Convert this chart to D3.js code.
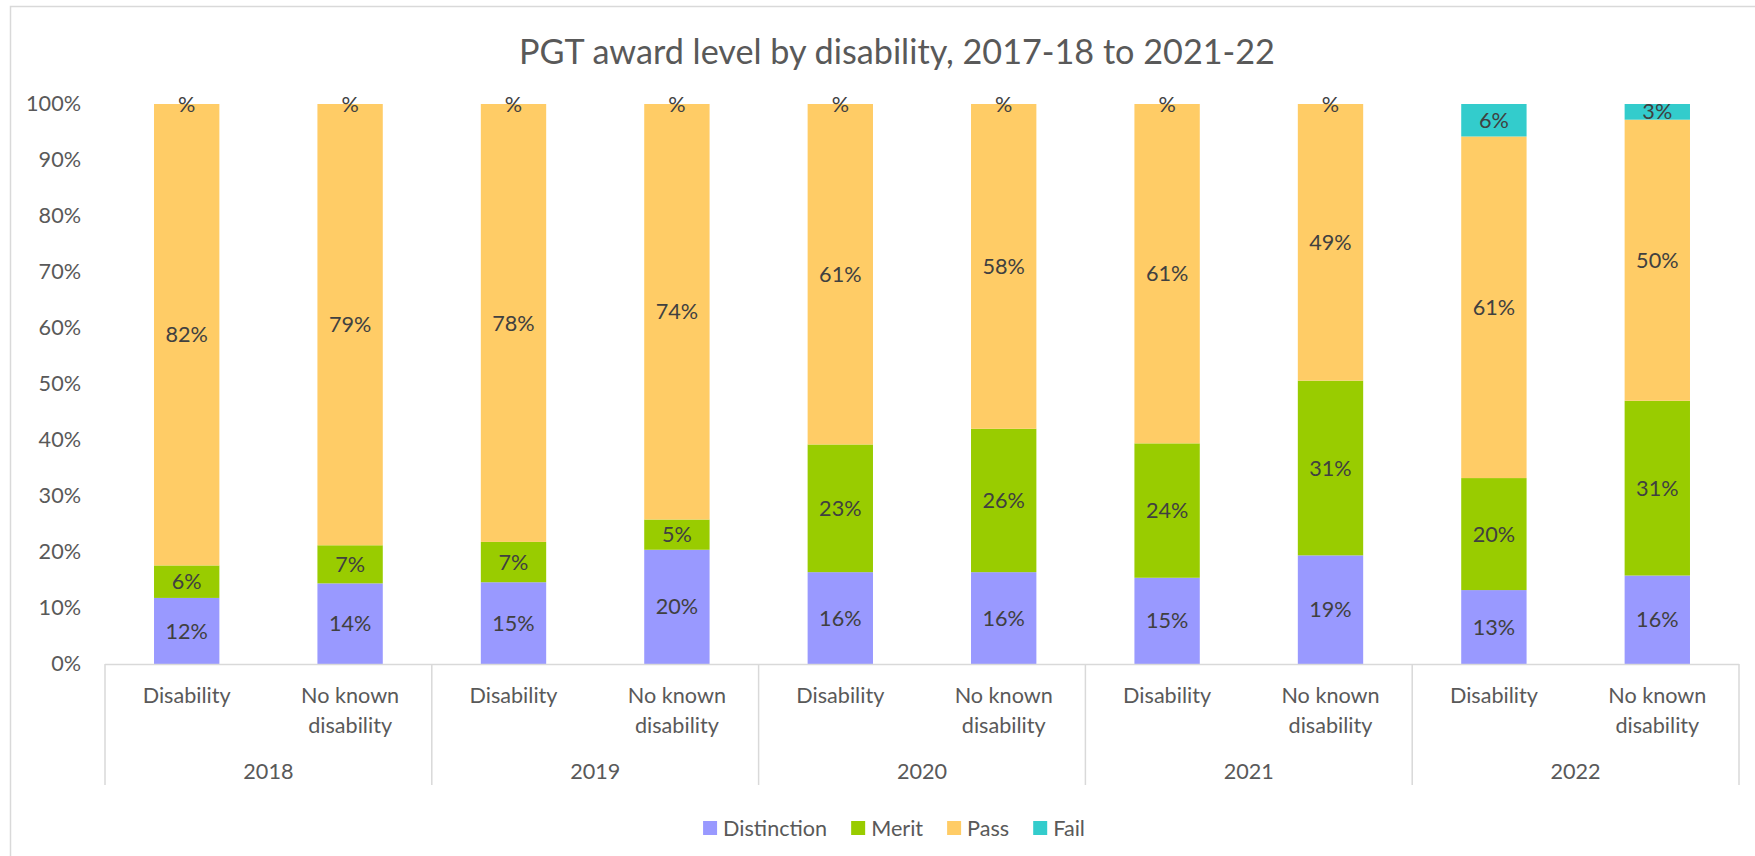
<!DOCTYPE html>
<html>
<head>
<meta charset="utf-8">
<script src="https://cdn.jsdelivr.net/npm/d3@7"></script>
<style>
  html, body { margin: 0; padding: 0; background: #ffffff; }
  svg { display: block; }
</style>
</head>
<body>
<svg id="chart" width="1755" height="856"></svg>
<script>
// ---------------- DATA ----------------
const title = "PGT award level by disability, 2017-18 to 2021-22";
const years = ["2018", "2019", "2020", "2021", "2022"];
const groups = ["Disability", "No known disability"];
const seriesNames = ["Distinction", "Merit", "Pass", "Fail"];
// values in bar order: 2018 Dis, 2018 NKD, 2019 Dis, 2019 NKD, ...
const distinction = [0.118, 0.144, 0.146, 0.204, 0.164, 0.164, 0.154, 0.194, 0.132, 0.158];
const merit       = [0.058, 0.068, 0.072, 0.054, 0.228, 0.256, 0.240, 0.312, 0.200, 0.312];
const pass        = [0.824, 0.788, 0.782, 0.742, 0.608, 0.580, 0.606, 0.494, 0.610, 0.502];
const fail        = [null, null, null, null, null, null, null, null, 0.058, 0.028];
const yTickValues = [0, 0.1, 0.2, 0.3, 0.4, 0.5, 0.6, 0.7, 0.8, 0.9, 1.0];

// ---------------- STYLE ----------------
const seriesColors = { Distinction: "#9999FF", Merit: "#99CC00", Pass: "#FFCC66", Fail: "#33CCCC" };
const FONT = "Lato, 'Open Sans', sans-serif";
const axisColor = "#595959";
const labelColor = "#404040";
const lineColor = "#D9D9D9";

const svg = d3.select("#chart");

// fit a font size so that a reference string has a target width
function fitSize(str, targetWidth, weight) {
  const t = svg.append("text").attr("font-family", FONT).attr("font-size", 100)
    .attr("font-weight", weight || "normal").text(str);
  const w = t.node().getComputedTextLength();
  t.remove();
  return 100 * targetWidth / w;
}
const labelSize = fitSize("Disability", 88);
const titleSize = fitSize(title, 756);

// ---------------- LAYOUT ----------------
const plot = { left: 105, right: 1739, top: 104, bottom: 664 };

const rows = [];
years.forEach(y => groups.forEach(g => rows.push({ year: y, group: g })));
const seriesArrays = { Distinction: distinction, Merit: merit, Pass: pass, Fail: fail };
rows.forEach((r, i) => {
  r.key = r.year + "|" + r.group;
  seriesNames.forEach(s => { r[s] = seriesArrays[s][i]; });
});

const x = d3.scaleBand().domain(rows.map(r => r.key))
  .range([plot.left, plot.right]).paddingInner(0.6).paddingOuter(0.3);
const xYear = d3.scaleBand().domain(years).range([plot.left, plot.right]);
const y = d3.scaleLinear().domain([0, 1]).range([plot.bottom, plot.top]);

const stack = d3.stack().keys(seriesNames).value((d, k) => d[k] == null ? 0 : d[k]);
const stacked = stack(rows);

// chart frame
svg.append("rect").attr("x", 10.5).attr("y", 6.5).attr("width", 1800).attr("height", 900)
  .attr("fill", "#ffffff").attr("stroke", lineColor).attr("stroke-width", 1.5);

// title
svg.append("text").attr("x", 897).attr("y", 64).attr("text-anchor", "middle")
  .attr("font-family", FONT).attr("font-size", titleSize).attr("fill", axisColor).text(title);

// y axis
const yAxis = svg.append("g").attr("transform", `translate(${plot.left},0)`)
  .call(d3.axisLeft(y).tickValues(yTickValues).tickFormat(d3.format(".0%")).tickSize(0).tickPadding(24));
yAxis.select(".domain").remove();
yAxis.selectAll("text").attr("font-family", FONT).attr("font-size", labelSize).attr("fill", axisColor);

// bars
const layers = svg.append("g").selectAll("g").data(stacked).join("g")
  .attr("fill", d => seriesColors[d.key]);
layers.selectAll("rect").data(d => d).join("rect")
  .attr("x", d => x(d.data.key))
  .attr("width", x.bandwidth())
  .attr("y", d => y(d[1]))
  .attr("height", d => y(d[0]) - y(d[1]));

// data labels
const fmt = d3.format(".0%");
const labelsG = svg.append("g");
stacked.forEach(layer => {
  labelsG.selectAll(null).data(layer).join("text")
    .attr("x", d => x(d.data.key) + x.bandwidth() / 2)
    .attr("y", d => y((d[0] + d[1]) / 2))
    .attr("dy", "0.35em")
    .attr("text-anchor", "middle")
    .attr("font-family", FONT).attr("font-size", labelSize).attr("fill", labelColor)
    .text(d => d.data[layer.key] == null ? "%" : fmt(d.data[layer.key]));
});

// x axis (multi-level)
const axisG = svg.append("g");
axisG.append("line").attr("x1", plot.left).attr("x2", plot.right)
  .attr("y1", plot.bottom + 0.5).attr("y2", plot.bottom + 0.5)
  .attr("stroke", lineColor).attr("stroke-width", 1.5);
const sepPositions = years.map(yr => xYear(yr)).concat([plot.right]);
axisG.selectAll(".sep").data(sepPositions).join("line")
  .attr("x1", d => d).attr("x2", d => d)
  .attr("y1", plot.bottom).attr("y2", plot.bottom + 121)
  .attr("stroke", lineColor).attr("stroke-width", 1.5);

function wrapWords(text, maxW) {
  const words = text.split(" ");
  const lines = [];
  let cur = "";
  const t = svg.append("text").attr("font-family", FONT).attr("font-size", labelSize);
  words.forEach(w => {
    const test = cur ? cur + " " + w : w;
    t.text(test);
    if (t.node().getComputedTextLength() > maxW && cur) { lines.push(cur); cur = w; }
    else cur = test;
  });
  lines.push(cur);
  t.remove();
  return lines;
}

const catLabels = axisG.selectAll(".cat").data(rows).join("text")
  .attr("text-anchor", "middle")
  .attr("font-family", FONT).attr("font-size", labelSize).attr("fill", axisColor)
  .attr("transform", d => `translate(${x(d.key) + x.bandwidth() / 2},${plot.bottom + 31})`);
catLabels.each(function(d) {
  const lines = wrapWords(d.group, 125);
  d3.select(this).selectAll("tspan").data(lines).join("tspan")
    .attr("x", 0).attr("y", (l, i) => i * 30).attr("dy", "0.35em").text(l => l);
});

axisG.selectAll(".yr").data(years).join("text")
  .attr("x", d => xYear(d) + xYear.bandwidth() / 2)
  .attr("y", plot.bottom + 107).attr("dy", "0.35em")
  .attr("text-anchor", "middle")
  .attr("font-family", FONT).attr("font-size", labelSize).attr("fill", axisColor)
  .text(d => d);

// legend
const legend = svg.append("g");
let lx = 0;
const items = [];
seriesNames.forEach(s => {
  const g = legend.append("g").attr("transform", `translate(${lx},0)`);
  g.append("rect").attr("x", 0).attr("y", -7).attr("width", 14).attr("height", 14).attr("fill", seriesColors[s]);
  const t = g.append("text").attr("x", 20).attr("y", 0).attr("dy", "0.35em")
    .attr("font-family", FONT).attr("font-size", labelSize).attr("fill", axisColor).text(s);
  lx += 20 + t.node().getComputedTextLength() + 24;
});
const legendWidth = lx - 24;
legend.attr("transform", `translate(${894 - legendWidth / 2},828)`);
</script>
</body>
</html>
